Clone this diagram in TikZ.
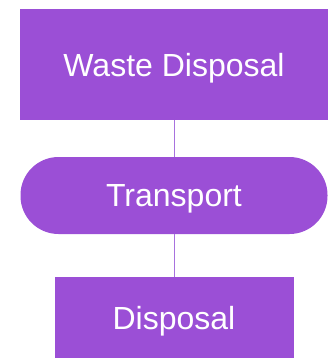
\documentclass[tikz,border=0pt]{standalone}
\usepackage{fontspec}
\setmainfont{Liberation Sans}
\usepackage{xcolor}
\usetikzlibrary{positioning}
\definecolor{boxpurple}{HTML}{9B4FD6}
\definecolor{linkpurple}{HTML}{A872DE}

\begin{document}
\begin{tikzpicture}[
    x=1pt, y=-1pt,
    step box/.style={
        rectangle,
        fill=boxpurple,
        text=white,
        inner sep=0pt,
        text depth=0pt,
        font=\fontsize{32}{37}\selectfont
    },
    wastebox/.style={step box, minimum width=308pt, minimum height=111pt},
    transportbox/.style={step box, rounded corners=38pt, minimum width=307pt, minimum height=77pt},
    disposalbox/.style={step box, minimum width=239pt, minimum height=81pt},
    link/.style={draw=linkpurple, line width=1pt}
]

% Canvas
\useasboundingbox (0,0) rectangle (331,358);

% Stages
\node[wastebox] (waste) at (174, 64.5) {Waste Disposal};
\node[transportbox] (transport) at (174, 195.5) {Transport};
\node[disposalbox] (disposal) at (174, 317.5) {Disposal};

% Links
\draw[link] (waste) -- (transport);
\draw[link] (transport) -- (disposal);

\end{tikzpicture}
\end{document}
